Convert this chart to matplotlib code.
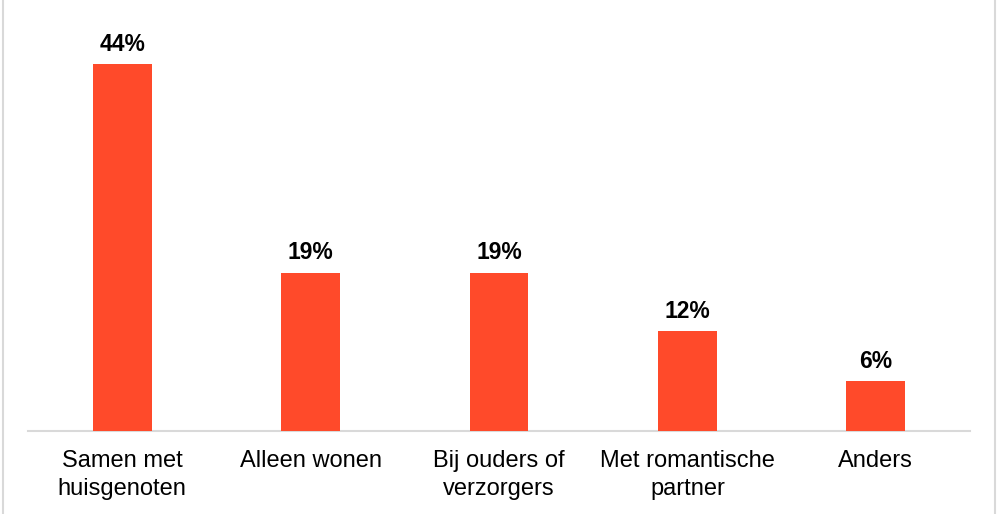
import matplotlib
matplotlib.use("Agg")
import matplotlib.pyplot as plt
from matplotlib.lines import Line2D

plt.rcParams["font.family"] = ["Liberation Sans", "DejaVu Sans"]

# ── Data ────────────────────────────────────────────────────────────────────
categories = ["Samen met\nhuisgenoten", "Alleen wonen", "Bij ouders of\nverzorgers",
              "Met romantische\npartner", "Anders"]
values = [44, 19, 19, 12, 6]

BAR_COLOR = "#FF4A2A"
GRID_GRAY = "#D9D9D9"

# ── Layout ──────────────────────────────────────────────────────────────────
fig = plt.figure(figsize=(10, 5.14), dpi=100)
ax = fig.add_axes([0.028, 1 - 431 / 514, 0.942, 421 / 514])

x = range(len(categories))
ax.bar(x, values, width=0.313, color=BAR_COLOR, zorder=3)

for xi, v in zip(x, values):
    ax.annotate(f"{v}%", (xi, v), xytext=(0, 6), textcoords="offset points",
                ha="center", va="bottom", fontsize=16.5, fontweight="bold")

ax.set_xlim(-0.5, len(categories) - 0.5)
ax.set_ylim(0, 50.5)
ax.set_yticks([])
ax.set_xticks(list(x))
ax.set_xticklabels(categories, fontsize=17, linespacing=1.3)
ax.tick_params(axis="x", length=0, pad=14)

for side in ["top", "right", "left"]:
    ax.spines[side].set_visible(False)
ax.spines["bottom"].set_color(GRID_GRAY)
ax.spines["bottom"].set_linewidth(1.5)

# thin frame lines at the figure's left and right edges
fig.add_artist(Line2D([0.003, 0.003], [0, 1], color=GRID_GRAY, lw=1.5))
fig.add_artist(Line2D([0.995, 0.995], [0, 1], color=GRID_GRAY, lw=1.5))

fig.savefig("out.png", dpi=100)
